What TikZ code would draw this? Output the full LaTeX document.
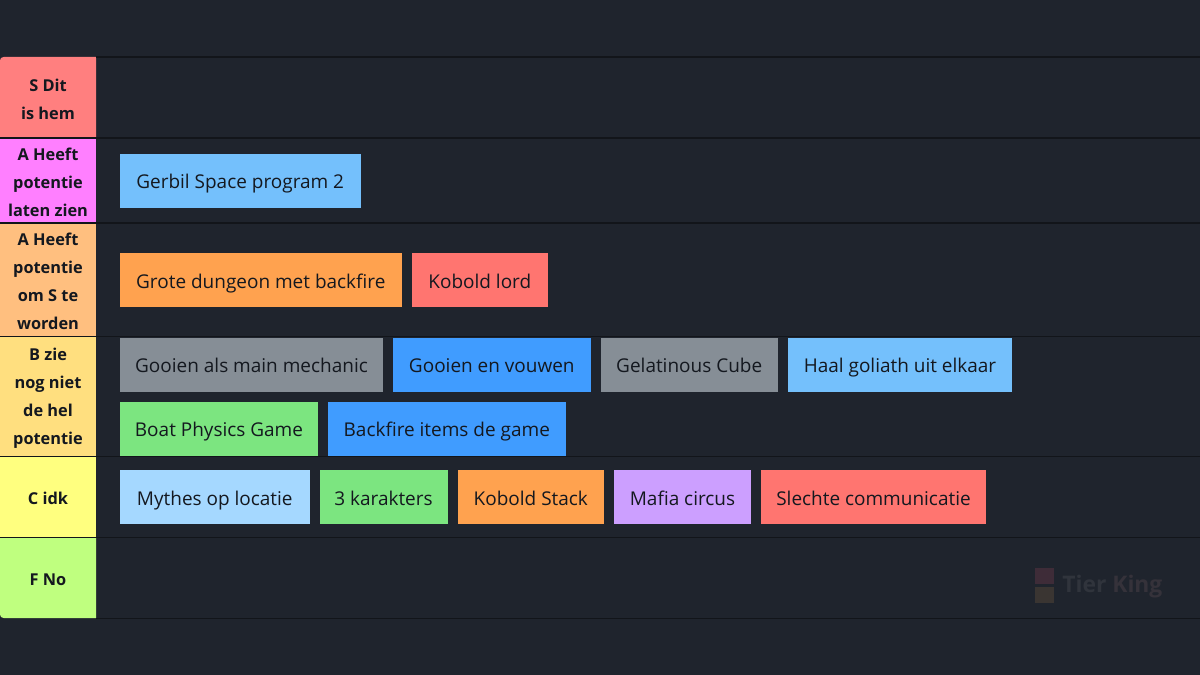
\documentclass[tikz,border=0pt]{standalone}
\usepackage{fontspec}
\setmainfont{Open Sans}
\usepackage{xcolor}
\definecolor{pagebg}{HTML}{1F242D}
\definecolor{rowline}{HTML}{12151A}
\definecolor{inktext}{HTML}{14181F}
\definecolor{tierS}{HTML}{FF7F7F}
\definecolor{tierAa}{HTML}{FF7FFF}
\definecolor{tierAb}{HTML}{FFBF7F}
\definecolor{tierB}{HTML}{FFDF7F}
\definecolor{tierC}{HTML}{FFFF7F}
\definecolor{tierF}{HTML}{BFFF7F}
\definecolor{skyblue}{HTML}{74C0FC}
\definecolor{orangebox}{HTML}{FFA24F}
\definecolor{redbox}{HTML}{FF7570}
\definecolor{graybox}{HTML}{868E96}
\definecolor{bluebox}{HTML}{409CFF}
\definecolor{greenbox}{HTML}{7CE580}
\definecolor{paleblue}{HTML}{A5D8FF}
\definecolor{purplebox}{HTML}{CC9FFF}
\definecolor{markred}{HTML}{3E2C38}
\definecolor{markbrown}{HTML}{3A3532}
\definecolor{marktier}{HTML}{30343C}
\definecolor{markking}{HTML}{35323A}
\tikzset{
  tierlabel/.style={text=inktext,align=center,inner sep=0pt,font=\fontsize{9.3}{15.95}\selectfont\bfseries},
  itemlabel/.style={text=inktext,inner sep=0pt,anchor=base,font=\fontsize{10.8}{13}\selectfont},
  rowrule/.style={draw=rowline,line width=0.6pt}
}
\begin{document}
\begin{tikzpicture}[x=0.02cm,y=-0.02cm]
\useasboundingbox (0,0) rectangle (1200,675);
\fill[pagebg] (-5,-5) rectangle (1205,680);
% tier column
\fill[tierS] (96,57) [rounded corners=2pt] -- (0,57) [sharp corners] -- (0,138) -- (96,138) -- cycle;
\fill[tierAa] (0,138) rectangle (96,223);
\fill[tierAb] (0,223) rectangle (96,336);
\fill[tierB] (0,336) rectangle (96,456);
\fill[tierC] (0,456) rectangle (96,537);
\fill[tierF] (96,618) [rounded corners=2pt] -- (0,618) [sharp corners] -- (0,537) -- (96,537) -- cycle;
\node[tierlabel] (labelS) at (48,99) {S Dit\\is hem};
\node[tierlabel] (labelAa) at (48,182) {A Heeft\\potentie\\laten zien};
\node[tierlabel] (labelAb) at (48,281) {A Heeft\\potentie\\om S te\\worden};
\node[tierlabel] (labelB) at (48,398) {B zie\\nog niet\\de hel\\potentie};
\node[tierlabel] (labelC) at (48,498) {C idk};
\node[tierlabel] (labelF) at (48,580) {F No};
% row rules
\draw[rowrule] (96,57) -- (1200,57);
\draw[rowrule] (0,138) -- (1200,138);
\draw[rowrule] (0,223) -- (1200,223);
\draw[rowrule] (0,336.5) -- (1200,336.5);
\draw[rowrule] (0,456.5) -- (1200,456.5);
\draw[rowrule] (0,537.5) -- (1200,537.5);
\draw[rowrule] (96,618.5) -- (1200,618.5);
% items
\fill[skyblue] (120,154) rectangle (360.5,208);
\node[itemlabel] (gerbil) at (240.2,189) {Gerbil Space program 2};
\fill[orangebox] (120,253) rectangle (401.5,307);
\node[itemlabel] (dungeon) at (260.8,289) {Grote dungeon met backfire};
\fill[redbox] (412,253) rectangle (547.5,307);
\node[itemlabel] (kobold) at (479.8,289) {Kobold lord};
\fill[graybox] (120,338) rectangle (383,392);
\node[itemlabel] (gooienmain) at (251.5,373) {Gooien als main mechanic};
\fill[bluebox] (393,338) rectangle (590.5,392);
\node[itemlabel] (gooienvouw) at (491.8,373) {Gooien en vouwen};
\fill[graybox] (601,338) rectangle (777.5,392);
\node[itemlabel] (cube) at (689.2,373) {Gelatinous Cube};
\fill[skyblue] (788,338) rectangle (1012,392);
\node[itemlabel] (goliath) at (900,373) {Haal goliath uit elkaar};
\fill[greenbox] (120,402) rectangle (318,456);
\node[itemlabel] (boat) at (219,437) {Boat Physics Game};
\fill[bluebox] (328,402) rectangle (565.5,456);
\node[itemlabel] (items) at (446.8,437) {Backfire items de game};
\fill[paleblue] (120,470) rectangle (309.5,524);
\node[itemlabel] (mythes) at (214.8,505) {Mythes op locatie};
\fill[greenbox] (319.5,470) rectangle (447.5,524);
\node[itemlabel] (karakters) at (383.5,505) {3 karakters};
\fill[orangebox] (457.5,470) rectangle (604,524);
\node[itemlabel] (stack) at (530.8,505) {Kobold Stack};
\fill[purplebox] (614,470) rectangle (751,524);
\node[itemlabel] (mafia) at (682.5,505) {Mafia circus};
\fill[redbox] (761,470) rectangle (986,524);
\node[itemlabel] (slechte) at (873.5,505) {Slechte communicatie};
% watermark
\fill[markred] (1035,568) rectangle (1054,584);
\fill[markbrown] (1035,587) rectangle (1054,603);
\node[inner sep=0pt,anchor=west,font=\fontsize{13}{15}\selectfont\bfseries] (watermark) at (1062,586.5) {\textcolor{marktier}{Tier }\textcolor{markking}{King}};
\end{tikzpicture}
\end{document}
